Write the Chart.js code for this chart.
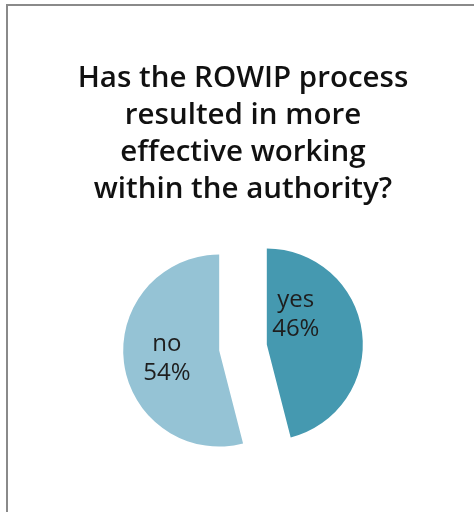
<!DOCTYPE html>
<html>
<head>
<meta charset="utf-8">
<script src="https://cdn.jsdelivr.net/npm/chart.js@4/dist/chart.umd.min.js"></script>
<style>
  html, body { margin: 0; padding: 0; background: #fff; }
  #wrap { position: relative; width: 474px; height: 512px; }
</style>
</head>
<body>
<div id="wrap"><canvas id="pie" width="474" height="512"></canvas></div>
<script>
const titleLines = ['Has the ROWIP process', 'resulted in more', 'effective working', 'within the authority?'];
const answers = ['yes', 'no'];
const shares = [46, 54];
const sliceColors = ['#4599b0', '#95c3d5'];

// how far each slice is pulled away from the centre, in px
const explode = 24;

// where each label sits inside its slice: angle clockwise from 12 o'clock, share of radius
const labelSpots = [
  { angle: 44, dist: 0.435 },
  { angle: 262, dist: 0.55 }
];

const frame = {
  id: 'frame',
  beforeDraw(chart) {
    const ctx = chart.ctx;
    ctx.save();
    ctx.strokeStyle = '#8a8a8a';
    ctx.lineWidth = 2;
    ctx.beginPath();
    ctx.moveTo(7, chart.height);
    ctx.lineTo(7, 5);
    ctx.lineTo(chart.width, 5);
    ctx.stroke();
    ctx.restore();
  }
};

// the built-in offset option also grows the arcs unevenly, so the slices
// are pushed out here instead, keeping one radius for both
const explodedSlices = {
  id: 'explodedSlices',
  beforeDatasetDraw(chart, args) {
    const ctx = chart.ctx;
    args.meta.data.forEach(arc => {
      const mid = (arc.startAngle + arc.endAngle) / 2;
      ctx.save();
      ctx.translate(Math.cos(mid) * explode, Math.sin(mid) * explode);
      arc.draw(ctx);
      ctx.restore();
    });
    return false;
  }
};

const sliceLabels = {
  id: 'sliceLabels',
  afterDatasetsDraw(chart) {
    const ctx = chart.ctx;
    const meta = chart.getDatasetMeta(0);
    ctx.save();
    ctx.fillStyle = '#1e1e1e';
    ctx.font = '24px "Open Sans", sans-serif';
    ctx.textAlign = 'center';
    ctx.textBaseline = 'middle';
    meta.data.forEach((arc, i) => {
      const p = arc.getProps(['x', 'y', 'startAngle', 'endAngle', 'outerRadius'], true);
      const mid = (p.startAngle + p.endAngle) / 2;
      const cx = p.x + Math.cos(mid) * explode;
      const cy = p.y + Math.sin(mid) * explode;
      const a = labelSpots[i].angle * Math.PI / 180;
      const d = labelSpots[i].dist * p.outerRadius;
      const lx = cx + Math.sin(a) * d;
      const ly = cy - Math.cos(a) * d;
      ctx.fillText(answers[i], lx, ly - 14);
      ctx.fillText(shares[i] + '%', lx, ly + 15);
    });
    ctx.restore();
  }
};

new Chart(document.getElementById('pie'), {
  type: 'pie',
  data: {
    labels: answers,
    datasets: [{
      data: shares,
      backgroundColor: sliceColors,
      borderWidth: 0
    }]
  },
  options: {
    responsive: false,
    animation: false,
    radius: 96,
    layout: { padding: { left: 12, right: 0, top: 0, bottom: 44 } },
    plugins: {
      legend: { display: false },
      tooltip: { enabled: false },
      title: {
        display: true,
        text: titleLines,
        color: '#111',
        font: { family: '"Open Sans", sans-serif', size: 29.5, weight: '600', lineHeight: 1.255 },
        padding: { top: 60, bottom: 19 }
      }
    }
  },
  plugins: [frame, explodedSlices, sliceLabels]
});
</script>
</body>
</html>
